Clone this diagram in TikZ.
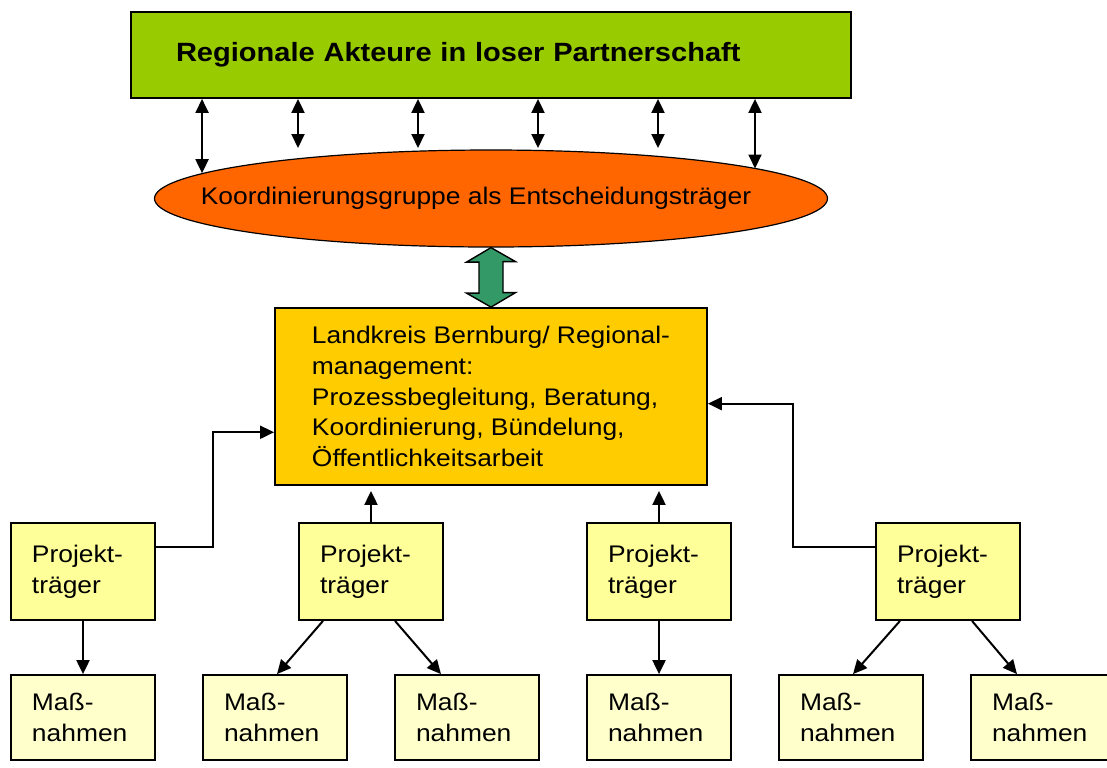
\documentclass[tikz,border=0pt]{standalone}
\usepackage{fontspec}
\setmainfont[FakeStretch=1.1]{Liberation Sans}
\usepackage{tikz}
\usetikzlibrary{shapes.geometric, arrows.meta, positioning, calc}

\definecolor{akgreen}{HTML}{99CC00}
\definecolor{koordorange}{HTML}{FF6600}
\definecolor{arrgreen}{HTML}{339966}
\definecolor{lkgold}{HTML}{FFCC00}
\definecolor{ptyellow}{HTML}{FFFF99}
\definecolor{mpale}{HTML}{FFFFCC}

\begin{document}
\begin{tikzpicture}[x=0.5pt,y=-0.5pt,
    font=\fontsize{12}{15.4}\selectfont,
    box/.style={draw, line width=0.9pt, inner ysep=0pt, align=left},
    akbox/.style={box, fill=akgreen, font=\fontsize{13.2}{15.4}\selectfont\bfseries,
        minimum width=360pt, minimum height=43pt, inner xsep=22.5pt, text width=315pt},
    koordell/.style={ellipse, draw, line width=0.6pt, fill=koordorange,
        minimum width=336.5pt, minimum height=48.5pt, inner sep=0pt},
    lkbox/.style={box, fill=lkgold, minimum width=216pt, minimum height=88.5pt,
        inner xsep=0pt},
    ptbox/.style={box, fill=ptyellow, minimum width=72pt, minimum height=48.5pt,
        inner xsep=10.5pt, text width=51pt},
    mbox/.style={box, fill=mpale, minimum width=72pt, minimum height=42.5pt,
        inner xsep=10.5pt, text width=51pt},
    arr/.style={line width=1pt, >={Triangle[length=7pt,width=6.5pt]}}]
\useasboundingbox (0,0) rectangle (1107,767);
\clip (0,0) rectangle (1107,767);

% Top levels
\node[akbox] (akteure) at (491,55) {Regionale Akteure in loser Partnerschaft};
\node[koordell] (koord) at (491,198.5)
    {\makebox[0pt]{Koordinierungsgruppe als Entscheidungsträger\hspace*{15pt}}};
\node[lkbox] (lk) at (491,396.5) {Landkreis Bernburg/ Regional-\\management:\\
    Prozessbegleitung, Beratung,\\Koordinierung, Bündelung,\\Öffentlichkeitsarbeit};

% Projekttraeger and Massnahmen
\foreach \x [count=\i] in {83,371,659,948}
    \node[ptbox] (pt\i) at (\x,571.5) {Projekt-\\träger};
\foreach \x [count=\i] in {83,275,467,659,851,1043}
    \node[mbox] (m\i) at (\x,717.5) {Maß-\\nahmen};

% Akteure <-> Koordinierungsgruppe
\coordinate (kl) at (koord.175);
\coordinate (kr) at ($(koord.center)+(264,-30)$);
\foreach \x in {298,418,538,658}
    \draw[arr,<->] (akteure.south -| \x,0) -- (\x,148);
\draw[arr,<->] (akteure.south -| kl) -- (kl);
\draw[arr,<->] (akteure.south -| kr) -- (kr);

% Block arrow
\draw[fill=arrgreen, line width=0.7pt] (koord.south) -- ++(24.5,14) -- ++(-12.5,0)
    -- ++(0,31) -- ++(12.5,0) -- (lk.north) -- ++(-24.5,-14) -- ++(12.5,0)
    -- ++(0,-31) -- ++(-12.5,0) -- cycle;

% Projekttraeger -> Landkreis
\coordinate (lkl) at ($(lk.north west)!.7!(lk.south west)$);
\coordinate (lkr) at ($(lk.north east)!.54!(lk.south east)$);
\draw[arr,->] ($(pt1.north east)!.25!(pt1.south east)$) -| ($(lkl)+(-61,0)$) -- (lkl);
\draw[arr,->] ($(pt4.north west)!.25!(pt4.south west)$) -| ($(lkr)+(85,0)$) -- (lkr);
\draw[arr,->,shorten >=2.5pt] (pt2.north) -- (lk.south -| pt2.north);
\draw[arr,->,shorten >=2.5pt] (pt3.north) -- (lk.south -| pt3.north);

% Projekttraeger -> Massnahmen
\draw[arr,->] (pt1) -- (m1);
\draw[arr,->] (pt3) -- (m4);
\foreach \p/\a/\b in {2/2/3,4/5/6} {
    \draw[arr,->] ($(pt\p.south)+(-48,0)$) -- ($(m\a.north)+(2,0)$);
    \draw[arr,->] ($(pt\p.south)+(24,0)$) -- ($(m\b.north)+(-26,0)$);
}
\end{tikzpicture}
\end{document}
